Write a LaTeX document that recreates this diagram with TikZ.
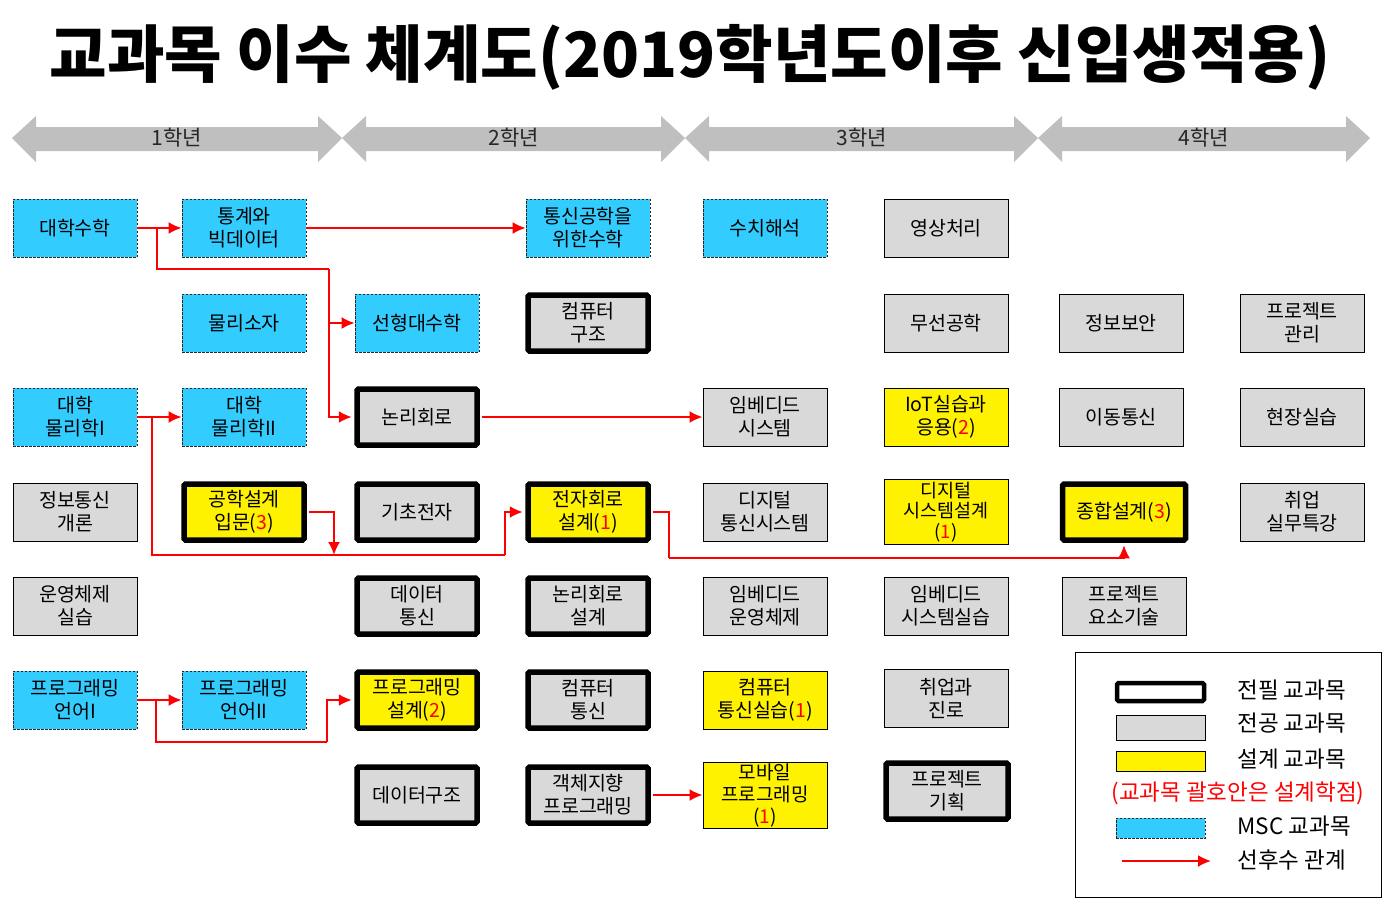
\documentclass[tikz,border=0pt]{standalone}
\usepackage{fontspec}
\usepackage{graphicx}
\setmainfont{Noto Sans CJK KR}
\usetikzlibrary{arrows.meta}
\definecolor{mscblue}{RGB}{51,204,255}
\definecolor{majorgray}{RGB}{217,217,217}
\definecolor{yeargray}{RGB}{191,191,191}
\newcommand{\designpt}[1]{({\color{red}#1})}
\begin{document}
\begin{tikzpicture}[x = 1pt, y = -1pt,
    subj/.style = {minimum width = 124pt, minimum height = 58pt, align = center, inner sep = 1pt,
      font = \fontsize{19.5}{23}\selectfont},
    msc/.style = {subj, fill = mscblue, draw = black!85, line width = 0.8pt, dash pattern = on 2.5pt off 1.5pt},
    major/.style = {subj, fill = majorgray, draw, line width = 1pt},
    design/.style = {subj, fill = yellow, draw, line width = 1pt},
    core/.style = {subj, fill = majorgray, draw, line width = 5.5pt, rounded corners = 1.5pt,
      minimum width = 120pt, minimum height = 56pt},
    coredesign/.style = {core, fill = yellow},
    wire/.style = {draw = red, line width = 2pt},
    link/.style = {wire, -{Latex[length = 13pt, width = 12pt]}},
    legendtext/.style = {anchor = west, font = \fontsize{22.5}{24}\selectfont}]
  \useasboundingbox (0, 0) rectangle (1387, 899);
  \def\cola{75}
  \def\colb{244}
  \def\colc{417}
  \def\cold{588}
  \def\cole{765}
  \def\colf{946}
  \def\colg{1121}
  \def\colh{1302}
  \def\rowa{228}
  \def\rowb{323}
  \def\rowc{417}
  \def\rowd{512}
  \def\rowe{606}
  \def\rowf{700}
  \def\rowg{795}
  \node (title) at (690, 57) {\resizebox{1280pt}{!}{\bfseries 교과목 이수 체계도(2019학년도이후 신입생적용)}};
  \foreach \xl/\xr/\yr in {12/342/1, 342/685/2, 685/1038/3, 1038/1370/4} {
    \fill[yeargray] (\xl, 138) -- (\xl + 24, 116) -- (\xl + 24, 127) -- (\xr - 24, 127) -- (\xr - 24, 116)
      -- (\xr, 138) -- (\xr - 24, 162) -- (\xr - 24, 151) -- (\xl + 24, 151) -- (\xl + 24, 162) -- cycle;
    \node[font = \fontsize{21}{22}\selectfont, text = black!85] (year\yr) at ({(\xl + \xr) / 2}, 138) {\yr 학년};
  }
  % row 1
  \node[msc] (suhak) at (\cola, \rowa) {대학수학};
  \node[msc] (tonggye) at (\colb, \rowa) {통계와\\빅데이터};
  \node[msc] (tongsinsuhak) at (\cold, \rowa) {통신공학을\\위한수학};
  \node[msc] (suchi) at (\cole, \rowa) {수치해석};
  \node[major] (yeongsang) at (\colf, \rowa) {영상처리};
  % row 2
  \node[msc] (mullisoja) at (\colb, \rowb) {물리소자};
  \node[msc] (seonhyeong) at (\colc, \rowb) {선형대수학};
  \node[core] (keomgujo) at (\cold, \rowb) {컴퓨터\\구조};
  \node[major] (museon) at (\colf, \rowb) {무선공학};
  \node[major] (boan) at (\colg, \rowb) {정보보안};
  \node[major] (pmgwanri) at (\colh, \rowb) {프로젝트\\관리};
  % row 3
  \node[msc] (mulli1) at (\cola, \rowc) {대학\\물리학I};
  \node[msc] (mulli2) at (\colb, \rowc) {대학\\물리학II};
  \node[core] (nonri) at (\colc, \rowc) {논리회로};
  \node[major] (embedded) at (\cole, \rowc) {임베디드\\시스템};
  \node[design] (iot) at (\colf, \rowc) {IoT실습과\\응용\designpt{2}};
  \node[major] (idong) at (\colg, \rowc) {이동통신};
  \node[major] (hyeonjang) at (\colh, \rowc) {현장실습};
  % row 4
  \node[major] (gaeron) at (\cola, \rowd) {정보통신\\개론};
  \node[coredesign] (gongseol) at (\colb, \rowd) {공학설계\\입문\designpt{3}};
  \node[core] (gicho) at (\colc, \rowd) {기초전자};
  \node[coredesign] (jeonja) at (\cold, \rowd) {전자회로\\설계\designpt{1}};
  \node[major] (digitaltongsin) at (\cole, \rowd) {디지털\\통신시스템};
  \node[design, minimum height = 65pt, font = \fontsize{18.5}{20.5}\selectfont] (digitalseol) at (\colf, \rowd) {디지털\\시스템설계\\\designpt{1}};
  \node[coredesign, minimum width = 123pt] (jonghap) at (1124, \rowd) {종합설계\designpt{3}};
  \node[major] (teukgang) at (\colh, \rowd) {취업\\실무특강};
  % row 5
  \node[major] (unyeong) at (\cola, \rowe) {운영체제\\실습};
  \node[core] (datatongsin) at (\colc, \rowe) {데이터\\통신};
  \node[core] (nonriseol) at (\cold, \rowe) {논리회로\\설계};
  \node[major] (embos) at (\cole, \rowe) {임베디드\\운영체제};
  \node[major] (embsil) at (\colf, \rowe) {임베디드\\시스템실습};
  \node[major] (yoso) at (1124, \rowe) {프로젝트\\요소기술};
  % row 6
  \node[msc] (prog1) at (\cola, \rowf) {프로그래밍\\언어I};
  \node[msc] (prog2) at (\colb, \rowf) {프로그래밍\\언어II};
  \node[coredesign] (progseol) at (\colc, \rowf) {프로그래밍\\설계\designpt{2}};
  \node[core] (keomtongsin) at (\cold, \rowf) {컴퓨터\\통신};
  \node[design] (keomsil) at (\cole, \rowf) {컴퓨터\\통신실습\designpt{1}};
  \node[major] (jinro) at (\colf, 698) {취업과\\진로};
  % row 7
  \node[core] (gujo) at (\colc, \rowg) {데이터구조};
  \node[core] (gaekche) at (\cold, \rowg) {객체지향\\프로그래밍};
  \node[design, minimum height = 66pt, font = \fontsize{19}{22}\selectfont] (mobile) at (\cole, \rowg) {모바일\\프로그래밍\\\designpt{1}};
  \node[core, minimum width = 122pt] (pmgihoek) at (947, 791) {프로젝트\\기획};
  % prerequisites
  \coordinate (splita) at (157, \rowa);
  \coordinate (splitb) at (329, 269);
  \coordinate (splitc) at (152, \rowc);
  \coordinate (splitd) at (505, 555);
  \coordinate (drop) at (334, 555);
  \coordinate (splite) at (669, 558);
  \coordinate (splitf) at (156, \rowf);
  \coordinate (splitg) at (327, 742);
  \draw[link] (suhak.east) -- (tonggye.west);
  \draw[wire] (splita) |- (splitb);
  \draw[link] (splitb) |- (seonhyeong.west);
  \draw[link, shorten > = 2.5pt] (splitb) |- (nonri.west);
  \draw[link] (tonggye.east) -- (tongsinsuhak.west);
  \draw[link, shorten < = 2.5pt] (nonri.east) -- (embedded.west);
  \draw[link] (mulli1.east) -- (mulli2.west);
  \draw[wire] (splitc) |- (splitd);
  \draw[link, shorten > = 2.5pt] (splitd) |- (jeonja.west);
  \draw[link, shorten < = 2.5pt] (gongseol.east) -| (drop);
  \draw[wire, shorten < = 2.5pt] (jeonja.east) -| (splite);
  \draw[link, shorten > = 2.5pt] (splite) -| (jonghap.south);
  \draw[link] (prog1.east) -- (prog2.west);
  \draw[wire] (splitf) |- (splitg);
  \draw[link, shorten > = 2.5pt] (splitg) |- (progseol.west);
  \draw[link, shorten < = 2.5pt] (gaekche.east) -- (mobile.west);
  % legend
  \node[draw, line width = 1pt, minimum width = 306pt, minimum height = 245pt, inner sep = 0pt] (legend) at (1228.5, 775) {};
  \node[draw, line width = 4.5pt, rounded corners = 1.5pt, fill = white, minimum width = 87pt, minimum height = 18pt] (keycore) at (1160.5, 692) {};
  \node[draw, fill = majorgray, line width = 1pt, minimum width = 89pt, minimum height = 25pt] (keymajor) at (1160.5, 727.5) {};
  \node[draw, fill = yellow, line width = 1pt, minimum width = 89pt, minimum height = 20pt] (keydesign) at (1160.5, 761) {};
  \node[draw = black!85, fill = mscblue, line width = 0.8pt, dash pattern = on 2.5pt off 1.5pt, minimum width = 89pt, minimum height = 20pt] (keymsc) at (1160.5, 828) {};
  \coordinate (keyfrom) at (1122, 861);
  \coordinate (keyto) at (1211, 861);
  \draw[link] (keyfrom) -- (keyto);
  \node[legendtext] (txtcore) at (1234, 690) {전필 교과목};
  \node[legendtext] (txtmajor) at (1234, 723) {전공 교과목};
  \node[legendtext] (txtdesign) at (1234, 759) {설계 교과목};
  \node[legendtext, text = red] (txtpoint) at (1108, 793) {(교과목 괄호안은 설계학점)};
  \node[legendtext] (txtmsc) at (1234, 826) {MSC 교과목};
  \node[legendtext] (txtlink) at (1234, 860) {선후수 관계};
\end{tikzpicture}
\end{document}
